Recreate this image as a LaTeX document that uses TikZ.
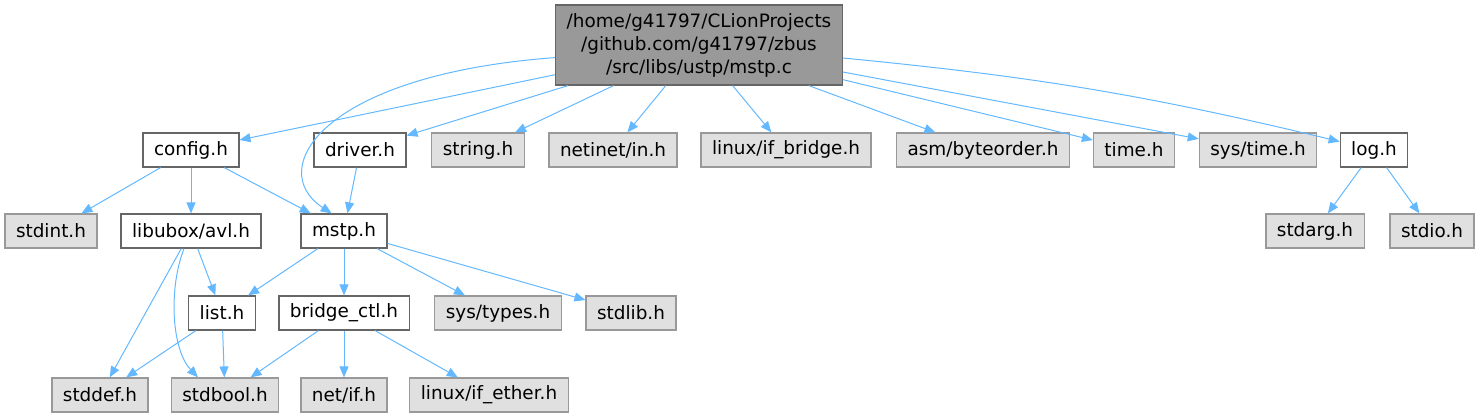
\documentclass[tikz,border=0pt]{standalone}
\usepackage{fontspec}
\setmainfont{DejaVu Sans}
\usepackage{tikz}
\usepackage{xcolor}
\usetikzlibrary{arrows.meta}

\definecolor{edgeblue}{HTML}{63B8FF}
\definecolor{rootfill}{HTML}{999999}
\definecolor{darkline}{HTML}{666666}
\definecolor{sysfill}{HTML}{E0E0E0}
\definecolor{sysline}{HTML}{999999}

\begin{document}
\begin{tikzpicture}[x=0.5pt,y=-0.5pt,
  file/.style={draw=darkline,line width=0.6pt,fill=white,minimum height=17pt,
    inner xsep=5.5pt,inner ysep=0pt,font=\fontsize{9.2}{11.5}\selectfont},
  sysfile/.style={file,draw=sysline,fill=sysfill},
  rootfile/.style={file,fill=rootfill,align=center,minimum height=40pt},
  edge/.style={draw=edgeblue,line width=0.5pt,-{Triangle[length=5.5pt,width=4.5pt]}}]

\useasboundingbox (0,0) rectangle (1476,417);

\node[rootfile] (root) at (699,45) {/home/g41797/CLionProjects\\/github.com/g41797/zbus\\/src/libs/ustp/mstp.c};

\node[file] (config) at (191,150) {config.h};
\node[file] (driver) at (360,150) {driver.h};
\node[sysfile] (string) at (478,150) {string.h};
\node[sysfile] (netin) at (613,150) {netinet/in.h};
\node[sysfile] (ifbridge) at (786,150) {linux/if\_bridge.h};
\node[sysfile] (byteorder) at (983,150) {asm/byteorder.h};
\node[sysfile] (time) at (1134,150) {time.h};
\node[sysfile] (systime) at (1258,150) {sys/time.h};
\node[file] (log) at (1374,150) {log.h};

\node[sysfile] (stdint) at (51,231) {stdint.h};
\node[file] (avl) at (191,231) {libubox/avl.h};
\node[file] (mstp) at (344,231) {mstp.h};
\node[sysfile] (stdarg) at (1315,231) {stdarg.h};
\node[sysfile] (stdio) at (1432,231) {stdio.h};

\node[file] (list) at (222,313) {list.h};
\node[file] (bridgectl) at (344,313) {bridge\_ctl.h};
\node[sysfile] (systypes) at (498,313) {sys/types.h};
\node[sysfile] (stdlib) at (631,313) {stdlib.h};

\node[sysfile] (stddef) at (100,395) {stddef.h};
\node[sysfile] (stdbool) at (225,395) {stdbool.h};
\node[sysfile] (netif) at (344,395) {net/if.h};
\node[sysfile] (ifether) at (489,395) {linux/if\_ether.h};

% mstp.c
\draw[edge] (root)--(config);
\draw[edge] (root.185) .. controls (320,75) and (265,170) .. (mstp.125);
\draw[edge] (root)--(driver);
\draw[edge] (root)--(string);
\draw[edge] (root)--(netin);
\draw[edge] (root)--(ifbridge);
\draw[edge] (root)--(byteorder);
\draw[edge] (root)--(time);
\draw[edge] (root)--(systime);
\draw[edge] ([yshift=-6.5pt]root.east) to[bend left=4] (log);

\draw[edge] (config)--(stdint);
\draw[edge] (config)--(avl);
\draw[edge] (config)--(mstp);

\draw[edge] (driver)--(mstp);

\draw[edge] (log)--(stdarg);
\draw[edge] (log)--(stdio);

\draw[edge] (avl)--(list);
\draw[edge] (avl)--(stddef);
\draw[edge] ([xshift=-3.5pt]avl.south) .. controls (168,290) and (172,350) .. ([xshift=-13.5pt]stdbool.north);

\draw[edge] (mstp)--(list);
\draw[edge] (mstp)--(bridgectl);
\draw[edge] (mstp)--(systypes);
\draw[edge] (mstp)--(stdlib);

\draw[edge] (list)--(stddef);
\draw[edge] (list)--(stdbool);

\draw[edge] (bridgectl)--(stdbool);
\draw[edge] (bridgectl)--(netif);
\draw[edge] (bridgectl)--(ifether);

\end{tikzpicture}
\end{document}
